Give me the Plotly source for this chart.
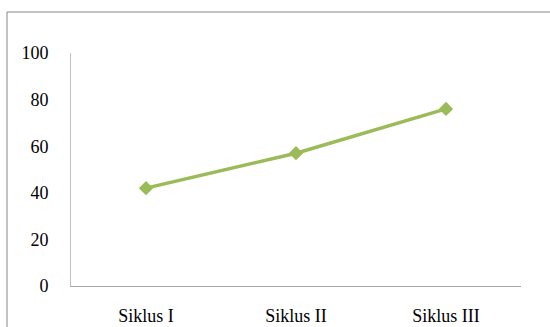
import plotly.graph_objects as go

# Scores per cycle
categories = ["Siklus I", "Siklus II", "Siklus III"]
values = [42, 57, 76]
y_ticks = [0, 20, 40, 60, 80, 100]

W, H = 550, 327
ml, mr, mt, mb = 71, 29, 53, 41
pw, ph = W - ml - mr, H - mt - mb

font = dict(family="Liberation Serif", size=18, color="#000000")

fig = go.Figure()
fig.add_trace(go.Scatter(
    x=categories, y=values, mode="lines+markers",
    line=dict(color="#9BBB59", width=3.5),
    marker=dict(symbol="diamond", size=11, color="#9BBB59"),
    showlegend=False, hoverinfo="x+y",
))

# outer chart frame (runs past the right and bottom edges)
fx0 = (7 - ml) / pw
fy1 = (H - mb - 12) / ph
fig.add_shape(type="line", xref="paper", yref="paper",
              x0=fx0, x1=fx0, y0=-1, y1=fy1, line=dict(color="#868686", width=1))
fig.add_shape(type="line", xref="paper", yref="paper",
              x0=fx0, x1=2, y0=fy1, y1=fy1, line=dict(color="#868686", width=1))

fig.update_layout(
    width=W, height=H,
    margin=dict(l=ml, r=mr, t=mt, b=mb, autoexpand=False),
    paper_bgcolor="white", plot_bgcolor="white",
    font=font,
    xaxis=dict(
        type="category", range=[-0.5, 2.5], automargin=False,
        showline=True, linecolor="#a6a6a6", linewidth=1,
        showgrid=False, zeroline=False, ticks="",
        ticklabelstandoff=13, tickfont=font,
    ),
    yaxis=dict(
        range=[0, 100], tickvals=y_ticks, automargin=False,
        showline=True, linecolor="#bfbfbf", linewidth=1,
        showgrid=False, zeroline=False, ticks="",
        ticklabelstandoff=18, tickfont=font,
    ),
)

fig.write_html("out.html")
